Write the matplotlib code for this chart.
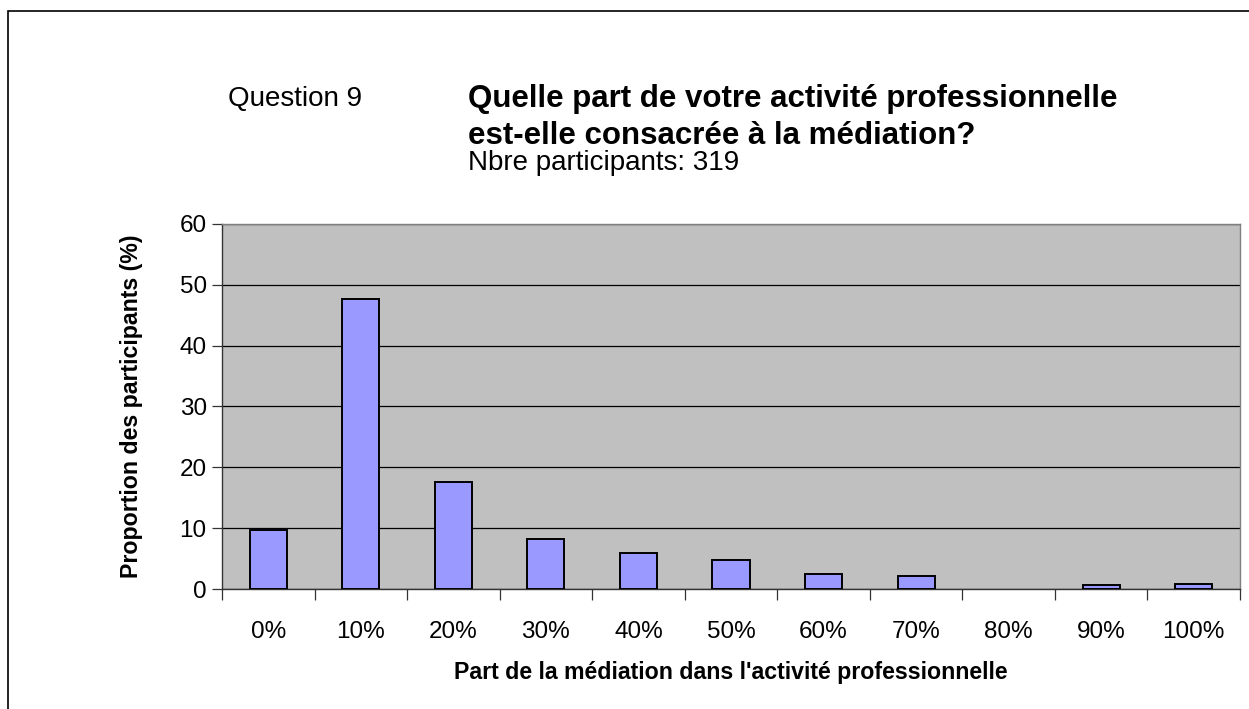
import matplotlib
matplotlib.use("Agg")
import matplotlib.pyplot as plt
from matplotlib.patches import Rectangle
import numpy as np

categories = ["0%", "10%", "20%", "30%", "40%", "50%", "60%", "70%", "80%", "90%", "100%"]
values = [9.7, 47.6, 17.6, 8.2, 6.0, 4.7, 2.5, 2.2, 0.0, 0.6, 0.9]
yticks = [0, 10, 20, 30, 40, 50, 60]

plt.rcParams['font.family'] = ['Liberation Sans', 'DejaVu Sans']

W, H = 1249, 709
fig = plt.figure(figsize=(W / 100, H / 100), dpi=100)

def fx(px):
    return px / W

def fy(py):
    return 1 - py / H

# outer border
fig.patches.append(Rectangle((fx(8), fy(1000)), 2, fy(11) - fy(1000), transform=fig.transFigure,
                             fill=False, edgecolor='black', linewidth=1.2))

ax = fig.add_axes([fx(222), fy(589), fx(1240) - fx(222), fy(224) - fy(589)])
ax.set_facecolor('#C0C0C0')
x = np.arange(len(categories))
lws = [1.4 if v > 0 else 0 for v in values]
ax.bar(x, values, width=0.4, color='#9999FF', edgecolor='black', linewidth=lws, zorder=3)

ax.set_xlim(-0.5, len(categories) - 0.5)
ax.set_ylim(0, 60)
ax.set_yticks(yticks)
ax.set_yticklabels([str(v) for v in yticks], fontsize=17.5)
ax.yaxis.grid(True, color='black', linewidth=0.9, zorder=1)
ax.set_axisbelow(True)

ax.set_xticks(x)
ax.set_xticklabels(categories, fontsize=17.5)
ax.tick_params(axis='x', which='major', length=0, pad=23)
ax.set_xticks(np.arange(-0.5, len(categories)), minor=True)
ax.tick_params(axis='x', which='minor', length=8, width=0.9, color='#333333', direction='out')
ax.tick_params(axis='y', length=7, width=0.9, color='#333333', direction='out', pad=4)

for s in ['left', 'bottom']:
    ax.spines[s].set_color('#333333')
    ax.spines[s].set_linewidth(1.0)
for s in ['top', 'right']:
    ax.spines[s].set_color('#808080')
    ax.spines[s].set_linewidth(1.0)

ax.set_xlabel("Part de la médiation dans l'activité professionnelle", fontsize=16.7, fontweight='bold', labelpad=13)
ax.set_ylabel("Proportion des participants (%)", fontsize=16.7, fontweight='bold', labelpad=26)

fig.text(fx(228), fy(99), "Question 9", fontsize=20, ha='left', va='center')
fig.text(fx(468), fy(99), "Quelle part de votre activité professionnelle", fontsize=22.5,
         fontweight='bold', ha='left', va='center')
fig.text(fx(468), fy(136), "est-elle consacrée à la médiation?", fontsize=22.5,
         fontweight='bold', ha='left', va='center')
fig.text(fx(468), fy(163), "Nbre participants: 319", fontsize=20, ha='left', va='center')

fig.savefig("out.png", dpi=100)
